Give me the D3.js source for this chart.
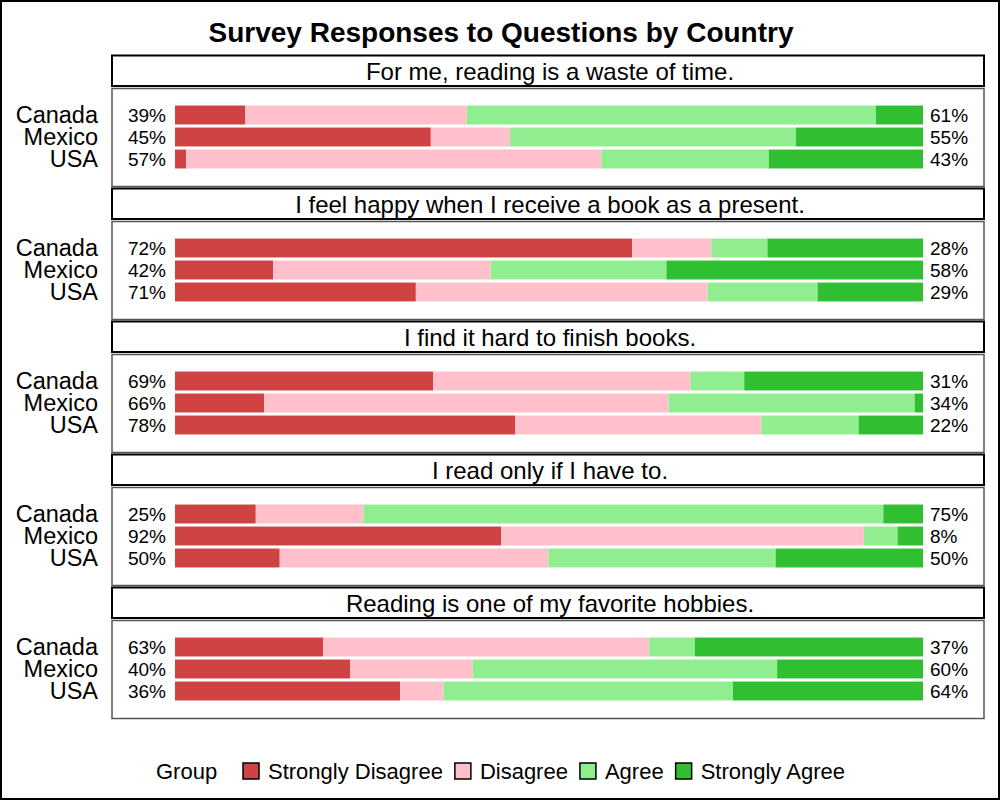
<!DOCTYPE html>
<html>
<head>
<meta charset="utf-8">
<script src="https://cdn.jsdelivr.net/npm/d3@7/dist/d3.min.js"></script>
<style>
  html, body { margin: 0; padding: 0; background: #fff; }
  svg { display: block; font-family: "Liberation Sans", Arial, sans-serif; }
</style>
</head>
<body>
<svg id="chart" width="1000" height="800"></svg>
<script>
// ---- data ----
const questions = [
  "For me, reading is a waste of time.",
  "I feel happy when I receive a book as a present.",
  "I find it hard to finish books.",
  "I read only if I have to.",
  "Reading is one of my favorite hobbies."
];
const countries = ["Canada", "Mexico", "USA"];
const groups = ["Strongly Disagree", "Disagree", "Agree", "Strongly Agree"];
const groupColors = ["#D04343", "#FFC0CB", "#90EE90", "#30BF30"];
// values in percent, ordered question by question, Canada / Mexico / USA
const stronglyDisagree = [9.4, 34.2, 1.5,  61.1, 13.1, 32.2,  34.5, 11.9, 45.5,  10.8, 43.6, 14.0,  19.8, 23.4, 30.1];
const disagree         = [29.6, 10.6, 55.5, 10.6, 29.1, 39.0,  34.4, 54.1, 32.9,  14.4, 48.5, 35.9,  43.6, 16.4, 5.8];
const agree            = [54.7, 38.2, 22.4, 7.5, 23.5, 14.7,   7.2, 32.9, 13.0,   69.5, 4.5, 30.4,   6.1, 40.7, 38.7];
const stronglyAgree    = [6.3, 17.0, 20.6,  20.8, 34.3, 14.1,  23.9, 1.1, 8.6,    5.3, 3.4, 19.7,    30.5, 19.5, 25.4];
const disagreeLabels   = ["39%","45%","57%", "72%","42%","71%", "69%","66%","78%", "25%","92%","50%", "63%","40%","36%"];
const agreeLabels      = ["61%","55%","43%", "28%","58%","29%", "31%","34%","22%", "75%","8%","50%",  "37%","60%","64%"];

// ---- build rows ----
const seriesValues = [stronglyDisagree, disagree, agree, stronglyAgree];
const rows = [];
questions.forEach((q, qi) => {
  countries.forEach((c, ci) => {
    const i = qi * countries.length + ci;
    const r = { question: q, country: c, idx: i };
    groups.forEach((g, gi) => { r[g] = seriesValues[gi][i]; });
    rows.push(r);
  });
});
const stacked = d3.stack().keys(groups)(rows);

// ---- layout ----
const svg = d3.select("#chart");
const W = 1000, H = 800;
const boxLeft = 112, boxRight = 984;
const panelStep = 133, firstPanelTop = 55.5, headerH = 30.5;

svg.append("rect").attr("x", 1).attr("y", 1).attr("width", W - 2).attr("height", H - 2)
  .attr("fill", "#fff").attr("stroke", "#000").attr("stroke-width", 2);

svg.append("text").attr("x", 501).attr("y", 42).attr("text-anchor", "middle")
  .attr("font-size", 28).attr("font-weight", "bold").text("Survey Responses to Questions by Country");

const panelY = d3.scaleBand().domain(questions)
  .range([firstPanelTop, firstPanelTop + panelStep * questions.length]).padding(0);
const x = d3.scaleLinear().domain([0, 100]).range([175, 923]);

const rowY = d3.scaleBand().domain(countries).range([0, 66]).paddingInner(0.14).paddingOuter(0.07);

questions.forEach((q, qi) => {
  const top = panelY(q);
  const g = svg.append("g");
  // plot box
  g.append("rect").attr("x", boxLeft).attr("y", top + headerH + 2.5)
    .attr("width", boxRight - boxLeft).attr("height", 131 - headerH - 2.5)
    .attr("fill", "none").attr("stroke", "#555").attr("stroke-width", 1.5);
  // header box
  g.append("rect").attr("x", boxLeft).attr("y", top).attr("width", boxRight - boxLeft).attr("height", headerH)
    .attr("fill", "#fff").attr("stroke", "#000").attr("stroke-width", 2);
  g.append("text").attr("x", (boxLeft + boxRight) / 2 + 2).attr("y", top + 24.5)
    .attr("text-anchor", "middle").attr("font-size", 24).text(q);

  const y0 = top + 48.5;
  // bars
  stacked.forEach((layer, li) => {
    g.selectAll(null).data(layer.filter(d => d.data.question === q)).join("rect")
      .attr("x", d => x(d[0]))
      .attr("width", d => x(d[1]) - x(d[0]))
      .attr("y", d => y0 + rowY(d.data.country))
      .attr("height", rowY.bandwidth())
      .attr("fill", groupColors[li]);
  });
  const qRows = rows.filter(r => r.question === q);
  // country labels
  g.selectAll(null).data(qRows).join("text")
    .attr("x", 98).attr("y", d => y0 + rowY(d.country) + rowY.bandwidth() / 2 + 8)
    .attr("text-anchor", "end").attr("font-size", 23.5).text(d => d.country);
  // disagree labels
  g.selectAll(null).data(qRows).join("text")
    .attr("x", 166).attr("y", d => y0 + rowY(d.country) + rowY.bandwidth() / 2 + 6.5)
    .attr("text-anchor", "end").attr("font-size", 19).text(d => disagreeLabels[d.idx]);
  // agree labels
  g.selectAll(null).data(qRows).join("text")
    .attr("x", 930).attr("y", d => y0 + rowY(d.country) + rowY.bandwidth() / 2 + 6.5)
    .attr("text-anchor", "start").attr("font-size", 19).text(d => agreeLabels[d.idx]);
});

// ---- legend ----
const leg = svg.append("g");
const legBase = 779;
leg.append("text").attr("x", 156).attr("y", legBase).attr("font-size", 22).text("Group");
let lx = 243;
groups.forEach((gname, gi) => {
  leg.append("rect").attr("x", lx).attr("y", legBase - 16).attr("width", 16).attr("height", 16)
    .attr("fill", groupColors[gi]).attr("stroke", "#000").attr("stroke-width", 1.5);
  const t = leg.append("text").attr("x", lx + 25).attr("y", legBase).attr("font-size", 22).text(gname);
  lx = lx + 25 + t.node().getComputedTextLength() + 12;
});
</script>
</body>
</html>
